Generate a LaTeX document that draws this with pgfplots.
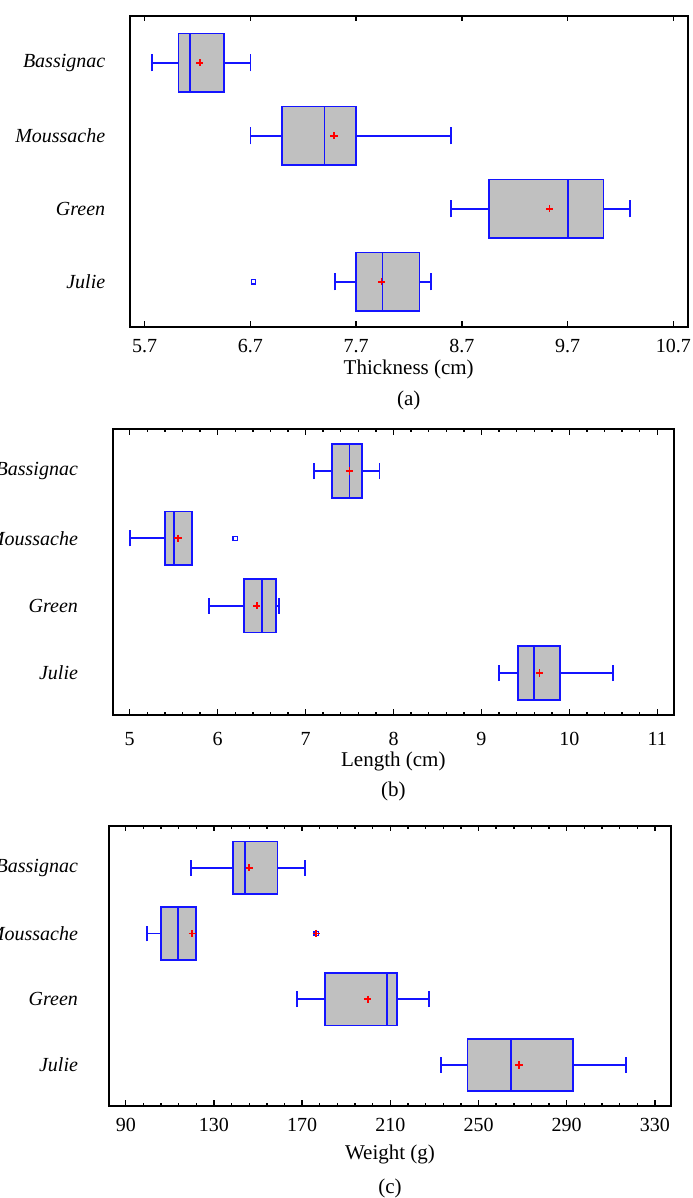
\documentclass[border=0pt]{standalone}
\usepackage{fontspec}
\setmainfont{Liberation Serif}
\usepackage{pgfplots}
\pgfplotsset{compat=1.18}
\usepgfplotslibrary{statistics}
\definecolor{boxblue}{RGB}{20,20,255}
\definecolor{boxgray}{RGB}{192,192,192}
\pgfplotsset{
  bp/.style={
    scale only axis,
    anchor=north west,
    ytick={1,2,3,4},
    yticklabels={\textit{Julie},\textit{Green},\textit{Moussache},\textit{Bassignac}},
    ytick style={draw=none},
    tick align=inside,
    xtick pos=both,
    major tick length=2.8pt,
    minor tick length=1.6pt,
    axis line style={line width=1pt},
    every outer x axis line/.append style={line width=1pt},
    every outer y axis line/.append style={line width=1pt},
    every tick/.style={black, line width=0.7pt},
    tick label style={font=\fontsize{10}{12}\selectfont},
    label style={font=\fontsize{10.5}{12}\selectfont},
    /pgf/number format/assume math mode=true,
    boxplot/whisker extend=0.24,
    boxplot/box extend=0.8,
    clip=false,
  },
  bx/.style={draw=boxblue, line width=0.9pt, mark=square, mark size=1.1pt,
    mark options={boxblue, solid, draw=boxblue, line width=0.6pt, fill=white},
    boxplot/every box/.style={fill=boxgray, draw=boxblue, line width=0.9pt},
    boxplot/every median/.style={draw=boxblue, line width=0.9pt},
    boxplot/every whisker/.style={draw=boxblue, line width=0.9pt}},
  mn/.style={only marks, mark=+, mark size=1.8pt, draw=red, line width=0.85pt},
}
\begin{document}
\begin{tikzpicture}
\useasboundingbox (0,0) rectangle (346pt,-599pt);
\clip (0,0) rectangle (346pt,-599pt);
% ---------------- (a) ----------------
\begin{axis}[bp,
  at={(64.85pt,-7.85pt)}, width=279pt, height=155.5pt,
  xmin=5.558, xmax=10.836, ymin=0.384, ymax=4.644,
  xtick={5.7,6.7,7.7,8.7,9.7,10.7},
  xticklabels={5.7,6.7,7.7,8.7,9.7,10.7},
  xticklabel shift=2.8pt,
  yticklabel shift=8.7pt,
  xlabel={Thickness (cm)},
  xlabel style={at={(axis description cs:0.5,0)}, anchor=north, yshift=-13pt},
]
\addplot[bx, boxplot prepared={draw position=4, lower whisker=5.77, lower quartile=6.02, median=6.13, upper quartile=6.45, upper whisker=6.70}] coordinates {};
\addplot[bx, boxplot prepared={draw position=3, lower whisker=6.70, lower quartile=7.00, median=7.40, upper quartile=7.70, upper whisker=8.60}] coordinates {};
\addplot[bx, boxplot prepared={draw position=2, lower whisker=8.60, lower quartile=8.96, median=9.70, upper quartile=10.04, upper whisker=10.29}] coordinates {};
\addplot[bx, boxplot prepared={draw position=1, lower whisker=7.50, lower quartile=7.70, median=7.95, upper quartile=8.30, upper whisker=8.41}] coordinates {(0,6.73)};
\addplot[mn] coordinates {(6.22,4) (7.49,3) (9.53,2) (7.94,1)};
\node[anchor=north, font=\fontsize{10.5}{12}\selectfont, yshift=-28.5pt] at (axis description cs:0.5,0) {(a)};
\end{axis}
% ---------------- (b) ----------------
\begin{axis}[bp,
  at={(56.5pt,-214.5pt)}, width=280.35pt, height=143pt,
  xmin=4.81, xmax=11.186, ymin=0.376, ymax=4.624,
  xtick={5,6,7,8,9,10,11},
  xticklabels={5,6,7,8,9,10,11},
  minor x tick num=4,
  xticklabel shift=5pt,
  yticklabel shift=14pt,
  xlabel={Length (cm)},
  xlabel style={at={(axis description cs:0.5,0)}, anchor=north, yshift=-15pt},
]
\addplot[bx, boxplot prepared={draw position=4, lower whisker=7.10, lower quartile=7.30, median=7.50, upper quartile=7.645, upper whisker=7.84}] coordinates {};
\addplot[bx, boxplot prepared={draw position=3, lower whisker=5.00, lower quartile=5.40, median=5.505, upper quartile=5.705, upper whisker=5.705}] coordinates {(0,6.20)};
\addplot[bx, boxplot prepared={draw position=2, lower whisker=5.90, lower quartile=6.30, median=6.505, upper quartile=6.665, upper whisker=6.70}] coordinates {};
\addplot[bx, boxplot prepared={draw position=1, lower whisker=9.195, lower quartile=9.415, median=9.60, upper quartile=9.895, upper whisker=10.50}] coordinates {};
\addplot[mn] coordinates {(7.50,4) (5.55,3) (6.445,2) (9.66,1)};
\node[anchor=north, font=\fontsize{10.5}{12}\selectfont, yshift=-30pt] at (axis description cs:0.5,0) {(b)};
\end{axis}
% ---------------- (c) ----------------
\begin{axis}[bp,
  at={(54.5pt,-412.85pt)}, width=281pt, height=140pt,
  xmin=82.4, xmax=337.3, ymin=0.38, ymax=4.64,
  xtick={90,130,170,210,250,290,330},
  xticklabels={90,130,170,210,250,290,330},
  minor x tick num=4,
  xticklabel shift=2.5pt,
  yticklabel shift=12pt,
  xlabel={Weight (g)},
  xlabel style={at={(axis description cs:0.5,0)}, anchor=north, yshift=-16pt},
]
\addplot[bx, boxplot prepared={draw position=4, lower whisker=119.6, lower quartile=138.6, median=144.2, upper quartile=158.8, upper whisker=171.4}] coordinates {};
\addplot[bx, boxplot prepared={draw position=3, lower whisker=99.6, lower quartile=106.0, median=113.8, upper quartile=122.0, upper whisker=122.0}] coordinates {(0,176.4)};
\addplot[bx, boxplot prepared={draw position=2, lower whisker=167.6, lower quartile=180.2, median=208.4, upper quartile=213.2, upper whisker=227.4}] coordinates {};
\addplot[bx, boxplot prepared={draw position=1, lower whisker=233.0, lower quartile=245.0, median=264.8, upper quartile=293.0, upper whisker=317.0}] coordinates {};
\addplot[mn] coordinates {(146.0,4) (120.2,3) (176.4,3) (199.8,2) (268.4,1)};
\node[anchor=north, font=\fontsize{10.5}{12}\selectfont, yshift=-33pt] at (axis description cs:0.5,0) {(c)};
\end{axis}
\end{tikzpicture}
\end{document}
